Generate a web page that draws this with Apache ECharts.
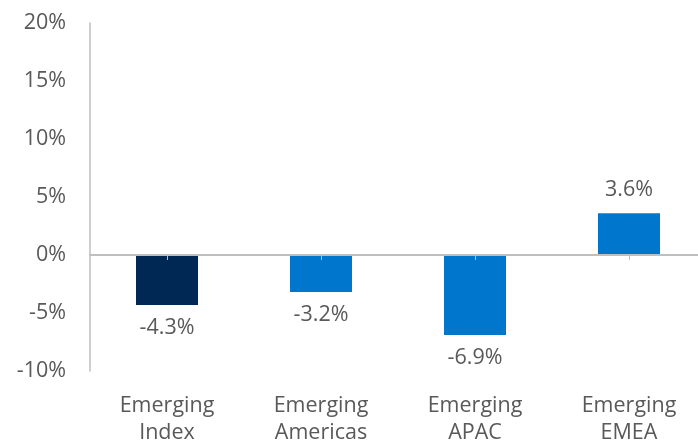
<!DOCTYPE html>
<html><head><meta charset="utf-8">
<script src="https://cdn.jsdelivr.net/npm/echarts@6/dist/echarts.min.js"></script>
<style>html,body{margin:0;padding:0;background:#fff}#c{width:698px;height:441px}</style>
</head><body><div id="c"></div>
<script>
const categories = ['Emerging\nIndex', 'Emerging\nAmericas', 'Emerging\nAPAC', 'Emerging\nEMEA'];
const values = [-4.3, -3.2, -6.9, 3.6];
const barColors = ['#002855', '#0077CC', '#0077CC', '#0077CC'];
const yTicks = { min: -10, max: 20, interval: 5 };

const chart = echarts.init(document.getElementById('c'));
const font = '"Open Sans", sans-serif';
const fs = 21.5;
chart.setOption({
  animation: false,
  grid: { left: 90, width: 616, top: 23, height: 348, containLabel: false, outerBoundsMode: 'none' },
  xAxis: {
    type: 'category', data: categories, z: 5,
    axisLine: { onZero: true, lineStyle: { color: '#bfbfbf', width: 2 } },
    axisTick: { show: true, alignWithLabel: true, length: 5, lineStyle: { color: '#bfbfbf' } },
    axisLabel: { show: false }
  },
  yAxis: {
    type: 'value', min: yTicks.min, max: yTicks.max, interval: yTicks.interval,
    axisLine: { show: true, lineStyle: { color: '#bfbfbf', width: 1.5 } },
    axisTick: { show: false },
    splitLine: { show: false },
    axisLabel: { formatter: v => v + '%', color: '#595959', fontSize: fs, fontFamily: font, margin: 24 }
  },
  series: [{
    type: 'bar', barWidth: 62,
    data: values.map((v, i) => ({ value: v, itemStyle: { color: barColors[i] },
      label: { position: v < 0 ? 'bottom' : 'top' } })),
    label: { show: true, formatter: p => p.value.toFixed(1) + '%', color: '#595959', fontSize: fs, fontFamily: font, distance: 12 }
  }],
  graphic: categories.map((c, i) => ({
    type: 'text', id: 'xl' + i,
    style: { text: c, fill: '#595959', fontSize: fs, fontFamily: font, align: 'center', verticalAlign: 'top', lineHeight: 27 }
  }))
});
const pos = categories.map((c, i) => chart.convertToPixel({ xAxisIndex: 0 }, i));
const yBase = chart.convertToPixel({ yAxisIndex: 0 }, yTicks.min);
chart.setOption({ graphic: categories.map((c, i) => ({ id: 'xl' + i, x: pos[i], y: yBase + 21 })) });
</script></body></html>
